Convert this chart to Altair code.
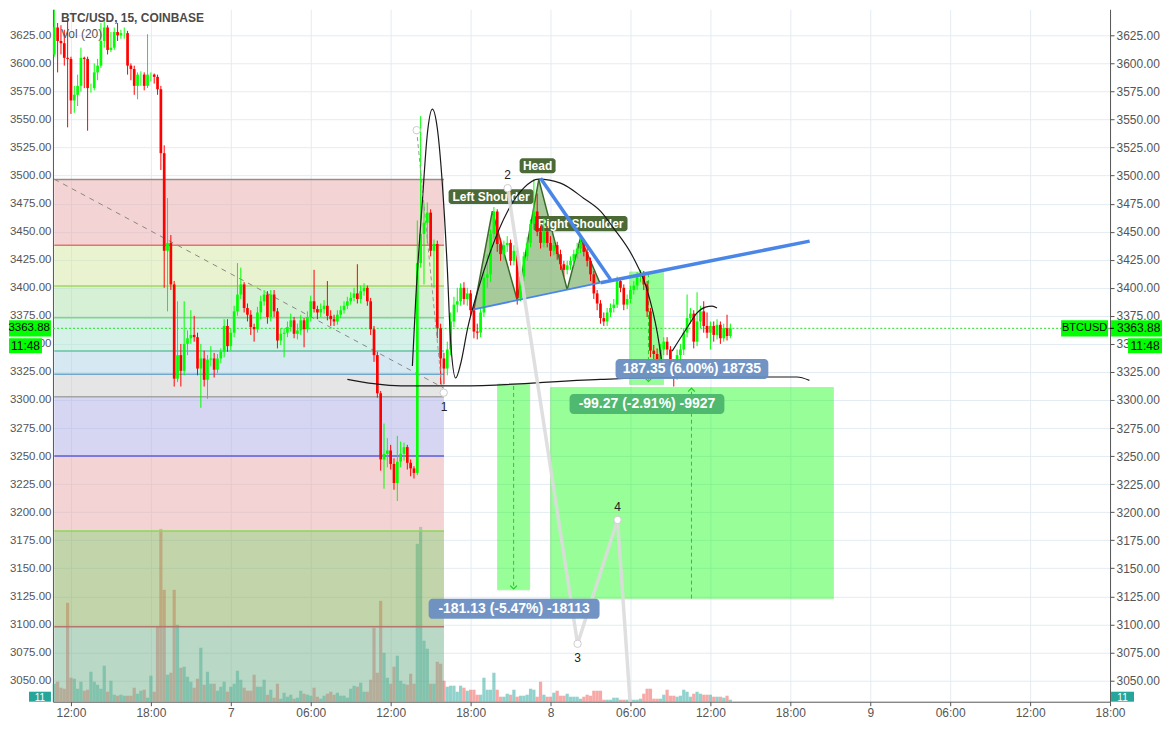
import altair as alt
import pandas as pd

FONT = "Liberation Sans"

# ---------------- 15-minute candles, BTC/USD (Coinbase) ----------------
FIRST_CANDLE_HOUR = 10.75   # hours after day-6 00:00
CANDLE_STEP = 0.25          # 15 minutes
FIRST_OPEN = 3608
CLOSES = [
    3632, 3620, 3618, 3605, 3604, 3567, 3572, 3580, 3605, 3604,
    3578, 3578, 3592, 3598, 3620, 3632, 3612, 3614, 3628, 3625,
    3627, 3627, 3598, 3595, 3580, 3590, 3590, 3580, 3590, 3590,
    3588, 3577, 3520, 3433, 3440, 3403, 3319, 3340, 3326, 3350,
    3355, 3358, 3356, 3328, 3337, 3318, 3336, 3337, 3327, 3337,
    3343, 3366, 3348, 3360, 3379, 3394, 3403, 3382, 3376, 3365,
    3363, 3378, 3388, 3394, 3374, 3394, 3379, 3353, 3359, 3360,
    3365, 3371, 3359, 3362, 3371, 3363, 3374, 3388, 3381, 3378,
    3381, 3384, 3375, 3372, 3370, 3376, 3380, 3384, 3388, 3391,
    3395, 3390, 3397, 3400, 3388, 3363, 3340, 3306, 3247, 3252,
    3255, 3243, 3226, 3245, 3252, 3258, 3244, 3239, 3235, 3422,
    3448, 3458, 3467, 3433, 3439, 3364, 3337, 3328, 3345, 3370,
    3385, 3388, 3400, 3390, 3395, 3380, 3361, 3360, 3378, 3409,
    3412, 3448, 3468, 3439, 3430, 3438, 3440, 3424, 3433, 3391,
    3410, 3428, 3440, 3457, 3468, 3450, 3440, 3450, 3440, 3433,
    3438, 3430, 3421, 3416, 3420, 3424, 3430, 3435, 3440, 3432,
    3424, 3412, 3395, 3386, 3373, 3370, 3378, 3382, 3385, 3406,
    3400, 3385, 3390, 3398, 3402, 3410, 3413, 3403, 3379, 3344,
    3341, 3335, 3345, 3352, 3345, 3330, 3323, 3340, 3345, 3360,
    3373, 3377, 3352, 3370, 3379, 3366, 3360, 3366, 3358, 3367,
    3355, 3364, 3357, 3363.88,
]
HIGHS = [
    3648, 3636, 3634, 3630, 3640, 3606, 3580, 3590, 3614, 3606,
    3606, 3582, 3600, 3604, 3636, 3638, 3634, 3628, 3632, 3636,
    3630, 3632, 3629, 3600, 3598, 3592, 3593, 3592, 3626, 3592,
    3591, 3590, 3580, 3527, 3480, 3447, 3406, 3388, 3350, 3388,
    3362, 3380, 3375, 3360, 3350, 3344, 3340, 3348, 3342, 3341,
    3346, 3372, 3372, 3364, 3384, 3422, 3418, 3405, 3386, 3380,
    3368, 3383, 3393, 3398, 3397, 3398, 3398, 3382, 3364, 3364,
    3370, 3377, 3374, 3368, 3376, 3373, 3379, 3393, 3416, 3384,
    3386, 3389, 3406, 3380, 3376, 3380, 3384, 3388, 3392, 3396,
    3400, 3421, 3402, 3404, 3402, 3391, 3366, 3343, 3308, 3279,
    3266, 3260, 3248, 3268, 3263, 3262, 3260, 3247, 3241, 3460,
    3553, 3475, 3476, 3470, 3443, 3442, 3368, 3342, 3352, 3378,
    3392, 3400, 3404, 3405, 3400, 3398, 3384, 3368, 3382, 3414,
    3430, 3452, 3472, 3470, 3444, 3442, 3446, 3443, 3438, 3436,
    3415, 3432, 3445, 3461, 3497, 3484, 3455, 3462, 3455, 3446,
    3442, 3441, 3434, 3424, 3424, 3428, 3434, 3440, 3446, 3443,
    3436, 3427, 3415, 3398, 3389, 3378, 3382, 3386, 3390, 3410,
    3409, 3403, 3394, 3402, 3406, 3414, 3416, 3415, 3406, 3382,
    3349, 3346, 3350, 3356, 3356, 3348, 3335, 3345, 3350, 3364,
    3394, 3382, 3380, 3396, 3384, 3388, 3378, 3370, 3370, 3372,
    3370, 3368, 3376, 3368,
]
LOWS = [
    3606, 3592, 3608, 3598, 3543, 3555, 3556, 3562, 3575, 3578,
    3540, 3574, 3576, 3585, 3596, 3614, 3608, 3610, 3612, 3620,
    3622, 3622, 3590, 3585, 3572, 3568, 3580, 3576, 3578, 3584,
    3582, 3572, 3505, 3400, 3379, 3398, 3312, 3316, 3312, 3322,
    3340, 3350, 3352, 3322, 3293, 3312, 3301, 3330, 3320, 3324,
    3333, 3338, 3343, 3344, 3356, 3375, 3390, 3378, 3370, 3358,
    3352, 3360, 3372, 3384, 3368, 3370, 3374, 3346, 3349, 3338,
    3356, 3361, 3355, 3354, 3358, 3347, 3360, 3370, 3378, 3372,
    3374, 3377, 3371, 3366, 3366, 3367, 3373, 3377, 3381, 3385,
    3388, 3386, 3386, 3393, 3384, 3358, 3334, 3302, 3237, 3221,
    3240, 3238, 3220, 3210, 3240, 3246, 3238, 3232, 3230, 3233,
    3418, 3403, 3440, 3428, 3400, 3355, 3314, 3314, 3322, 3340,
    3365, 3378, 3384, 3385, 3384, 3375, 3355, 3354, 3356, 3374,
    3400, 3405, 3444, 3432, 3424, 3425, 3432, 3420, 3420, 3385,
    3388, 3406, 3424, 3436, 3452, 3446, 3435, 3436, 3436, 3428,
    3429, 3425, 3416, 3410, 3412, 3416, 3420, 3426, 3431, 3428,
    3419, 3406, 3390, 3380, 3368, 3366, 3366, 3374, 3378, 3382,
    3396, 3380, 3381, 3386, 3394, 3398, 3405, 3398, 3374, 3338,
    3326, 3330, 3332, 3340, 3340, 3325, 3312, 3318, 3332, 3340,
    3356, 3368, 3346, 3348, 3364, 3360, 3355, 3345, 3352, 3354,
    3350, 3352, 3353, 3355,
]
VOLUMES = [
    18, 20, 14, 13, 99, 24, 23, 13, 20, 11,
    12, 30, 20, 17, 13, 36, 10, 21, 7, 6,
    7, 6, 6, 6, 14, 8, 11, 12, 4, 26,
    10, 75, 173, 112, 27, 29, 112, 77, 34, 35,
    25, 20, 14, 23, 54, 17, 30, 18, 18, 11,
    15, 20, 10, 15, 18, 31, 22, 14, 11, 11,
    27, 15, 15, 22, 7, 12, 4, 18, 3, 9,
    5, 7, 3, 4, 11, 8, 7, 6, 14, 5,
    3, 6, 8, 10, 7, 9, 6, 6, 4, 13,
    16, 15, 19, 10, 10, 22, 74, 29, 101, 49,
    24, 18, 35, 46, 21, 18, 17, 28, 18, 158,
    175, 61, 53, 18, 18, 40, 38, 21, 15, 16,
    16, 10, 16, 14, 11, 12, 12, 7, 7, 24,
    12, 12, 29, 12, 5, 5, 8, 7, 12, 5,
    6, 6, 7, 13, 12, 5, 20, 7, 5, 5,
    9, 11, 6, 6, 8, 5, 5, 5, 3, 5,
    7, 6, 11, 11, 11, 2, 2, 2, 4, 4,
    2, 2, 2, 2, 2, 2, 3, 8, 13, 13,
    3, 3, 3, 7, 12, 6, 6, 5, 6, 12,
    10, 5, 8, 10, 8, 7, 7, 7, 5, 5,
    5, 4, 6, 2,
]
LAST_PRICE = 3363.88

# ---------------- axes ----------------
X_TICKS = [12, 18, 24, 30, 36, 42, 48, 54, 60, 66, 72, 78, 84, 90]
X_LABELS = ["12:00", "18:00", "7", "06:00", "12:00", "18:00", "8",
            "06:00", "12:00", "18:00", "9", "06:00", "12:00", "18:00"]
Y_TICKS = [3050, 3075, 3100, 3125, 3150, 3175, 3200, 3225, 3250, 3275, 3300, 3325,
           3350, 3375, 3400, 3425, 3450, 3475, 3500, 3525, 3550, 3575, 3600, 3625]
X_DOMAIN = [10.65, 90.0]
Y_DOMAIN = [3031.07, 3648.22]

# ---------------- Fibonacci retracement ----------------
FIB_T = [10.75, 40.0]
FIB_LEVELS = [3496.5, 3438.0, 3401.5, 3373.3, 3343.6, 3322.9, 3302.9, 3250.1, 3183.3, 3097.8]
FIB_LINE_COLORS = ["#9e8a8a", "#e57373", "#a5d65c", "#81d681", "#66c2a5",
                   "#70a8cc", "#a3a3a3", "#5b5be0", "#8cd65c", "#b5766b"]
FIB_FILL_COLORS = ["#e7a7a7", "#d3e7a1", "#ade1ad", "#ade5d1", "#add1e5",
                   "#cbcbcb", "#adade5", "#e7a7a7", "#85ab55", "#73b28c"]
FIB_DIAG_T = [10.75, 39.98]
FIB_DIAG_P = [3496.8, 3310.7]

# ---------------- hand-drawn curves ----------------
CUP_T = [37.63, 37.875, 38.38, 38.75, 39.13, 39.5, 39.88, 40.25, 40.5, 40.88, 41.25, 41.78, 42.53,
         43.5, 44.78, 45.98, 47.1, 48.75, 50.48, 51.75, 52.73, 54.23, 55.28, 56.03, 56.48]
CUP_P = [3330.3, 3388.2, 3477.2, 3536.9, 3559.2, 3542.2, 3492.4, 3417.6, 3352.5, 3319.6, 3332.1,
         3364.1, 3397.1, 3432.7, 3468.3, 3488.8, 3496.8, 3493.3, 3479.9, 3468.3, 3453.2, 3426.5,
         3397.1, 3358.8, 3323.1]
SMALL_T = [57.13, 58.25, 59.0, 59.63, 60.13, 60.5]
SMALL_P = [3343.6, 3364.4, 3377.7, 3382.8, 3383.6, 3381.9]
BASE_T = [32.75, 34.73, 36.75, 41.25, 51.75, 59.25, 64.25, 66.5, 67.43]
BASE_P = [3318.4, 3314.5, 3312.5, 3312.5, 3318.4, 3320.5, 3320.5, 3320.5, 3317.5]

# ---------------- head & shoulders ----------------
HS_T = [42.25, 43.63, 45.5, 47.12, 49.25, 50.25, 51.7]
HS_P = [3380.8, 3468.3, 3389.0, 3496.6, 3398.4, 3444.5, 3404.5]
HS_NECK = [3380.8, 3384.3, 3389.0, 3393.0, 3398.4, 3400.8, 3404.5]
HS_LABELS = ["Left Shoulder", "Head", "Right Shoulder"]
HS_BOX_T0 = [40.35, 45.68, 46.73]
HS_BOX_T1 = [46.73, 48.38, 53.78]
HS_BOX_P0 = [3487.9, 3515.5, 3463.9]
HS_BOX_P1 = [3474.6, 3502.2, 3450.5]

BLUE_DOWN_T = [47.25, 52.5]
BLUE_DOWN_P = [3497.7, 3407.5]
NECK_T = [42.25, 51.75]
NECK_P = [3380.8, 3404.5]
NECK_EXT_T = [51.75, 67.45]
NECK_EXT_P = [3404.5, 3441.6]

# ---------------- pattern points 1-4 ----------------
ABCD_T = [44.78, 50.03, 53.03, 54.15]
ABCD_P = [3488.8, 3082.7, 3193.1, 3000.0]
DASH_T = [37.95, 39.83]
DASH_P = [3540.5, 3312.5]
DOT_T = [37.95, 39.98, 44.78, 50.03, 53.03]
DOT_P = [3540.5, 3306.5, 3488.8, 3082.7, 3193.1]
NUM_LABELS = ["1", "2", "3", "4"]
NUM_T = [40.0, 44.78, 50.03, 53.03]
NUM_P = [3293.8, 3500.4, 3070.2, 3204.7]

# ---------------- price-range boxes ----------------
POS_T0 = [53.93, 44.03, 48.0]
POS_T1 = [56.48, 46.43, 69.23]
POS_P0 = [3414.0, 3314.2, 3311.1]
POS_P1 = [3313.8, 3130.8, 3122.8]
ARROW_T = [55.35, 45.23, 58.58]
ARROW_FROM = [3413.0, 3312.5, 3123.0]
ARROW_TO = [3318.0, 3133.0, 3309.0]
RANGE_TEXT = ["187.35 (6.00%) 18735", "-181.13 (-5.47%) -18113", "-99.27 (-2.91%) -9927"]
RANGE_T0 = [52.88, 38.85, 49.43]
RANGE_T1 = [64.35, 51.68, 61.05]
RANGE_P0 = [3336.5, 3122.8, 3305.3]
RANGE_P1 = [3318.7, 3104.9, 3287.5]
RANGE_FILL = ["#6a8ec2", "#6a8ec2", "#4cb56e"]

# ---------------- layout ----------------
W, H = 1058, 693
GRID = "#e3ecf3"
AX = "#555555"

XS = alt.Scale(domain=X_DOMAIN, nice=False, zero=False, padding=0)
YS = alt.Scale(domain=Y_DOMAIN, nice=False, zero=False, padding=0)
label_array = "[" + ",".join("'%s'" % s for s in X_LABELS) + "]"
XAXIS = alt.Axis(values=X_TICKS, labelExpr=label_array + "[round((datum.value-12)/6)]",
                 title=None, grid=True, gridColor=GRID, domainColor=AX, tickColor=AX,
                 tickSize=4, labelColor=AX, labelFontSize=12, labelFont=FONT,
                 labelPadding=2, labelFlush=False)
YAXIS_L = alt.Axis(orient="left", values=Y_TICKS, format=".2f", title=None, grid=True,
                   gridColor=GRID, ticks=False, labelPadding=2, domainColor=AX,
                   labelColor=AX, labelFontSize=11.5, labelFont=FONT)
YAXIS_R = alt.Axis(orient="right", values=Y_TICKS, format=".2f", title=None, grid=False,
                   ticks=True, tickSize=4, tickColor=AX, labelPadding=2, domainColor=AX,
                   labelColor=AX, labelFontSize=12, labelFont=FONT)


def X(f="t"):
    return alt.X(f"{f}:Q", scale=XS, axis=XAXIS)


def Y(f, axis=None):
    return alt.Y(f"{f}:Q", scale=YS, axis=axis)


n = len(CLOSES)
candles = pd.DataFrame({
    "t": [FIRST_CANDLE_HOUR + CANDLE_STEP * i for i in range(n)],
    "o": [FIRST_OPEN] + CLOSES[:-1],
    "h": HIGHS, "l": LOWS, "c": CLOSES, "v": VOLUMES,
})
up_green = alt.condition("datum.c >= datum.o", alt.value("#00ff00"), alt.value("#ff0000"))
up_teal = alt.condition("datum.c >= datum.o", alt.value("#26a69a"), alt.value("#ef5350"))

volume = alt.Chart(candles).mark_bar(size=3.2, opacity=0.5).encode(
    x=X(), y=alt.Y("v:Q", scale=alt.Scale(domain=[0, H], nice=False, padding=0), axis=None),
    color=up_teal)

left_axis = alt.Chart(candles).mark_point(opacity=0).encode(x=X(), y=Y("c", YAXIS_L))
right_axis = alt.Chart(candles).mark_point(opacity=0).encode(x=X(), y=Y("c", YAXIS_R))

bands = pd.DataFrame({"top": FIB_LEVELS, "bot": FIB_LEVELS[1:] + [Y_DOMAIN[0]],
                      "fill": FIB_FILL_COLORS, "t0": FIB_T[0], "t1": FIB_T[1]})
fib_bands = alt.Chart(bands).mark_rect(opacity=0.5).encode(
    x=X("t0"), x2="t1", y=Y("top"), y2="bot", color=alt.Color("fill:N", scale=None))
lines = pd.DataFrame({"lvl": FIB_LEVELS, "col": FIB_LINE_COLORS, "t0": FIB_T[0], "t1": FIB_T[1]})
fib_lines = alt.Chart(lines).mark_rule(strokeWidth=1.5).encode(
    x=X("t0"), x2="t1", y=Y("lvl"), color=alt.Color("col:N", scale=None))
fib_diag = alt.Chart(pd.DataFrame({"t": FIB_DIAG_T, "p": FIB_DIAG_P})).mark_line(
    color="#888888", strokeDash=[5, 5], strokeWidth=1).encode(x=X(), y=Y("p"))

pos = pd.DataFrame({"t0": POS_T0, "t1": POS_T1, "p0": POS_P0, "p1": POS_P1})
pos_rects = alt.Chart(pos).mark_rect(color="#00ff00", opacity=0.4, stroke="#33dd33",
                                     strokeWidth=1).encode(x=X("t0"), x2="t1", y=Y("p0"), y2="p1")
arrows = pd.DataFrame({"t": ARROW_T, "p0": ARROW_FROM, "p1": ARROW_TO})
arrow_lines = alt.Chart(arrows).mark_rule(color="#22cc22", strokeDash=[4, 3], strokeWidth=1).encode(
    x=X(), y=Y("p0"), y2="p1")
heads = pd.DataFrame({"t": ARROW_T, "p": ARROW_TO, "dir": ["down", "down", "up"]})
heads_down = alt.Chart(heads).transform_filter("datum.dir == 'down'").mark_point(
    shape="M-1,-0.5L0,0.5L1,-0.5", filled=False, size=45, color="#22cc22", strokeWidth=1.2,
    opacity=1).encode(x=X(), y=Y("p"))
heads_up = alt.Chart(heads).transform_filter("datum.dir == 'up'").mark_point(
    shape="M-1,0.5L0,-0.5L1,0.5", filled=False, size=45, color="#22cc22", strokeWidth=1.2,
    opacity=1).encode(x=X(), y=Y("p"))

hs = pd.DataFrame({"t": HS_T, "p": HS_P, "neck": HS_NECK})
hs_area = alt.Chart(hs).mark_area(color="#5e9e48", opacity=0.55).encode(x=X(), y=Y("p"), y2="neck")
hs_zig = alt.Chart(hs).mark_line(color="#3c6a2a", strokeWidth=1.5).encode(x=X(), y=Y("p"))
hs_boxes_df = pd.DataFrame({"t0": HS_BOX_T0, "t1": HS_BOX_T1, "p0": HS_BOX_P0, "p1": HS_BOX_P1,
                            "label": HS_LABELS})
hs_boxes = alt.Chart(hs_boxes_df).mark_rect(color="#4b6a36", cornerRadius=3).encode(
    x=X("t0"), x2="t1", y=Y("p0"), y2="p1")
hs_text = alt.Chart(hs_boxes_df).transform_calculate(
    tm="(datum.t0 + datum.t1) / 2", pm="(datum.p0 + datum.p1) / 2").mark_text(
    color="white", font=FONT, fontSize=12, fontWeight="bold").encode(
    x=X("tm"), y=Y("pm"), text="label:N")

price_line = alt.Chart(pd.DataFrame({"p": [LAST_PRICE]})).mark_rule(
    color="#22dd22", strokeDash=[2, 2], strokeWidth=1).encode(y=Y("p"))

wicks = alt.Chart(candles).mark_rule(strokeWidth=1).encode(x=X(), y=Y("l"), y2="h", color=up_green)
bodies = alt.Chart(candles).mark_bar(size=2.7).encode(x=X(), y=Y("o"), y2="c", color=up_green)

cup = alt.Chart(pd.DataFrame({"t": CUP_T, "p": CUP_P})).mark_line(
    color="#1a1a1a", strokeWidth=1.2, interpolate="monotone").encode(x=X(), y=Y("p"))
small = alt.Chart(pd.DataFrame({"t": SMALL_T, "p": SMALL_P})).mark_line(
    color="#1a1a1a", strokeWidth=1.2, interpolate="monotone").encode(x=X(), y=Y("p"))
base = alt.Chart(pd.DataFrame({"t": BASE_T, "p": BASE_P})).mark_line(
    color="#1a1a1a", strokeWidth=1.2, interpolate="monotone").encode(x=X(), y=Y("p"))

blue_down = alt.Chart(pd.DataFrame({"t": BLUE_DOWN_T, "p": BLUE_DOWN_P})).mark_line(
    color="#4a86e8", strokeWidth=3.5).encode(x=X(), y=Y("p"))
neck = alt.Chart(pd.DataFrame({"t": NECK_T, "p": NECK_P})).mark_line(
    color="#4a86e8", strokeWidth=1.8).encode(x=X(), y=Y("p"))
neck_ext = alt.Chart(pd.DataFrame({"t": NECK_EXT_T, "p": NECK_EXT_P})).mark_line(
    color="#4a86e8", strokeWidth=3.5).encode(x=X(), y=Y("p"))

abcd = alt.Chart(pd.DataFrame({"t": ABCD_T, "p": ABCD_P})).mark_line(
    color="#dcdcdc", strokeWidth=3.5, opacity=0.9, clip=True).encode(x=X(), y=Y("p"))
dash = alt.Chart(pd.DataFrame({"t": DASH_T, "p": DASH_P})).mark_line(
    color="#999999", strokeDash=[4, 3], strokeWidth=1).encode(x=X(), y=Y("p"))
dots = alt.Chart(pd.DataFrame({"t": DOT_T, "p": DOT_P})).mark_point(
    filled=True, color="white", stroke="#cccccc", strokeWidth=1, size=55, opacity=1).encode(
    x=X(), y=Y("p"))
nums = alt.Chart(pd.DataFrame({"t": NUM_T, "p": NUM_P, "label": NUM_LABELS})).mark_text(
    color="#222222", font=FONT, fontSize=12).encode(x=X(), y=Y("p"), text="label:N")

ranges = pd.DataFrame({"t0": RANGE_T0, "t1": RANGE_T1, "p0": RANGE_P0, "p1": RANGE_P1,
                       "fill": RANGE_FILL, "label": RANGE_TEXT})
range_boxes = alt.Chart(ranges).mark_rect(cornerRadius=4, opacity=0.95).encode(
    x=X("t0"), x2="t1", y=Y("p0"), y2="p1", color=alt.Color("fill:N", scale=None))
range_text = alt.Chart(ranges).transform_calculate(
    tm="(datum.t0 + datum.t1) / 2", pm="(datum.p0 + datum.p1) / 2").mark_text(
    color="white", font=FONT, fontSize=14, fontWeight="bold").encode(
    x=X("tm"), y=Y("pm"), text="label:N")

# price tags on the axes
tag = pd.DataFrame({"p": [LAST_PRICE], "top": [LAST_PRICE + 7.3], "bot": [LAST_PRICE - 7.3],
                    "label": ["3363.88"]})
timer = pd.DataFrame({"p": [3348.3], "top": [3355.0], "bot": [3341.6], "label": ["11:48"]})
sym = pd.DataFrame({"p": [LAST_PRICE], "top": [LAST_PRICE + 7.3], "bot": [LAST_PRICE - 7.3],
                    "label": ["BTCUSD"]})
tag_layers = []
for xa, xb in [(-44, -2), (W + 1, W + 52)]:
    tag_layers.append(alt.Chart(tag).mark_rect(color="#00ff00").encode(
        x=alt.value(xa), x2=alt.value(xb), y=Y("top"), y2="bot"))
tag_layers.append(alt.Chart(tag).mark_text(align="right", font=FONT, fontSize=11.5, color="black").encode(
    x=alt.value(-3), y=Y("p"), text="label:N"))
tag_layers.append(alt.Chart(tag).mark_text(align="left", font=FONT, fontSize=12, color="black").encode(
    x=alt.value(W + 7), y=Y("p"), text="label:N"))
tag_layers.append(alt.Chart(tag).mark_rule(color="black").encode(
    x=alt.value(W), x2=alt.value(W + 4), y=Y("p")))
for xa, xb in [(-44, -11), (W + 18, W + 52)]:
    tag_layers.append(alt.Chart(timer).mark_rect(color="#00ff00").encode(
        x=alt.value(xa), x2=alt.value(xb), y=Y("top"), y2="bot"))
    tag_layers.append(alt.Chart(timer).mark_text(font=FONT, fontSize=12, color="black").encode(
        x=alt.value((xa + xb) / 2), y=Y("p"), text="label:N"))
tag_layers.append(alt.Chart(sym).mark_rect(color="#00ff00").encode(
    x=alt.value(W - 49), x2=alt.value(W - 2), y=Y("top"), y2="bot"))
tag_layers.append(alt.Chart(sym).mark_text(font=FONT, fontSize=11, color="black").encode(
    x=alt.value(W - 25.5), y=Y("p"), text="label:N"))

vol_tag = pd.DataFrame({"label": ["11"]})
for xa, xb in [(-24, -2), (W + 1, W + 24)]:
    tag_layers.append(alt.Chart(vol_tag).mark_rect(color="#26a69a").encode(
        x=alt.value(xa), x2=alt.value(xb), y=alt.value(H - 10), y2=alt.value(H)))
    tag_layers.append(alt.Chart(vol_tag).mark_text(font=FONT, fontSize=10, color="white",
                                                   baseline="top").encode(
        x=alt.value((xa + xb) / 2), y=alt.value(H - 9), text="label:N"))

title_df = pd.DataFrame({"label": ["BTC/USD, 15, COINBASE"]})
vol_df = pd.DataFrame({"label": ["Vol (20)"]})
title = alt.Chart(title_df).mark_text(align="left", baseline="alphabetic", font=FONT, fontSize=12,
                                      fontWeight="bold", color="#4a4a4a").encode(
    x=alt.value(8), y=alt.value(13), text="label:N")
vol_title = alt.Chart(vol_df).mark_text(align="left", baseline="alphabetic", font=FONT, fontSize=12,
                                        color="#555555").encode(
    x=alt.value(8), y=alt.value(29), text="label:N")

inner = alt.layer(
    left_axis, right_axis,
    fib_bands, fib_lines, fib_diag,
    pos_rects, arrow_lines, heads_down, heads_up,
    hs_area, hs_zig, hs_boxes, hs_text,
    price_line, wicks, bodies,
    cup, small, base,
    neck, blue_down, neck_ext,
    abcd, dash, dots, nums,
    range_boxes, range_text,
    *tag_layers,
    title, vol_title,
).resolve_axis(y="independent")

chart = alt.layer(volume, inner).resolve_scale(y="independent").properties(
    width=W, height=H, padding=0, background="white"
).configure_view(stroke=None)

chart.save("out.html", embed_options={"renderer": "svg", "actions": False})
